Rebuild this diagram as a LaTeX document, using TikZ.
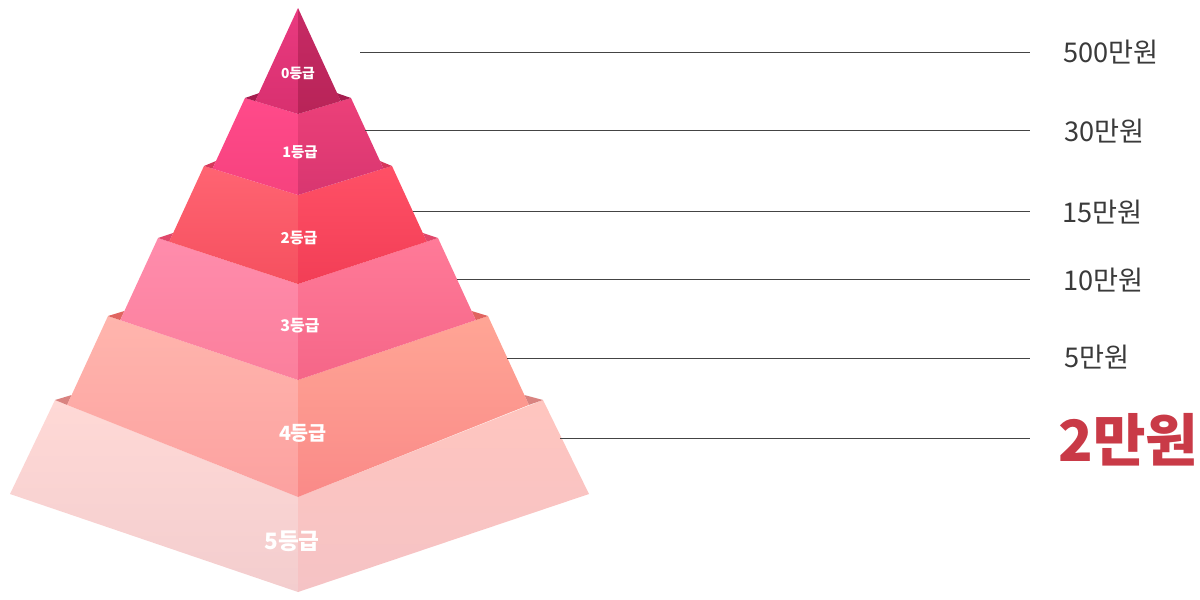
\documentclass[tikz,border=0pt]{standalone}
\usepackage{fontspec}
\newfontfamily\kr{Noto Sans CJK KR}
\definecolor{txt}{HTML}{3A3A3A}
\definecolor{hi}{HTML}{C93A47}
\definecolor{lin}{HTML}{444444}
\definecolor{l0a}{HTML}{EA3A80}\definecolor{l0b}{HTML}{D8306F}
\definecolor{r0a}{HTML}{C72A65}\definecolor{r0b}{HTML}{B82458}
\definecolor{l1a}{HTML}{FF4A8A}\definecolor{l1b}{HTML}{F6427E}
\definecolor{r1a}{HTML}{EC4079}\definecolor{r1b}{HTML}{D83670}
\definecolor{l2a}{HTML}{FF6472}\definecolor{l2b}{HTML}{F5505F}
\definecolor{r2a}{HTML}{FF5066}\definecolor{r2b}{HTML}{F23E56}
\definecolor{l3a}{HTML}{FF8CAC}\definecolor{l3b}{HTML}{FB7F9C}
\definecolor{r3a}{HTML}{FF7A98}\definecolor{r3b}{HTML}{F56688}
\definecolor{l4a}{HTML}{FFB5AD}\definecolor{l4b}{HTML}{FCA1A0}
\definecolor{r4a}{HTML}{FFA595}\definecolor{r4b}{HTML}{FA8A88}
\definecolor{l5a}{HTML}{FFD9D6}\definecolor{l5b}{HTML}{F3CDCE}
\definecolor{r5a}{HTML}{FFC5BF}\definecolor{r5b}{HTML}{F5C3C5}
\definecolor{g1}{HTML}{A61D4F}
\definecolor{g2}{HTML}{D6385C}
\definecolor{g3}{HTML}{E0476A}
\definecolor{g4}{HTML}{E06460}
\definecolor{g5}{HTML}{D98380}
\tikzset{
  tierlabel/.style={text=white,font=\kr\bfseries,inner sep=0pt},
  amount/.style={text=txt,font=\kr\fontsize{13.6}{16}\selectfont,anchor=west,inner sep=0pt},
  leader/.style={draw=lin,line width=0.5pt}
}
\begin{document}
\begin{tikzpicture}[x=0.5pt,y=-0.5pt]
\useasboundingbox (0,0) rectangle (1200,600);
% key points
\coordinate (A) at (298,8);
\coordinate (C0) at (298,114);
\coordinate (C1) at (298,195);
\coordinate (C2) at (298,284);
\coordinate (C3) at (298,380);
\coordinate (C4) at (298,497);
\coordinate (C5) at (298,592);
\coordinate (TL1) at (245,98);  \coordinate (TR1) at (351,98);
\coordinate (TL2) at (204,166); \coordinate (TR2) at (392,166);
\coordinate (TL3) at (158,238); \coordinate (TR3) at (438,238);
\coordinate (TL4) at (108,316); \coordinate (TR4) at (488,316);
\coordinate (TL5) at (55,400);  \coordinate (TR5) at (543,400);
\coordinate (BL0) at (255.2,101.1); \coordinate (BR0) at (340.8,101.1);
\coordinate (BL1) at (212.5,168.6); \coordinate (BR1) at (383.5,168.6);
\coordinate (BL2) at (169.2,241.7); \coordinate (BR2) at (426.8,241.7);
\coordinate (BL3) at (120.2,320.1); \coordinate (BR3) at (475.8,320.1);
\coordinate (BL4) at (67.1,404.9);  \coordinate (BR4) at (528.9,404.9);
\coordinate (BL5) at (10,494);      \coordinate (BR5) at (589,494);
\coordinate (P1) at (259.4,93);  \coordinate (Q1) at (336.6,93);
\coordinate (P2) at (216.0,161); \coordinate (Q2) at (380.0,161);
\coordinate (P3) at (173.2,233); \coordinate (Q3) at (422.8,233);
\coordinate (P4) at (124.4,311); \coordinate (Q4) at (471.6,311);
\coordinate (P5) at (71.7,395);  \coordinate (Q5) at (524.3,395);
% tier 5
\shade[top color=l5a,bottom color=l5b] (TL5) -- (BL5) -- (C5) -- (C4) -- cycle;
\shade[top color=r5a,bottom color=r5b] (C4) -- (C5) -- (BR5) -- (TR5) -- cycle;
\fill[g5] (TL5) -- (P5) -- (BL4) -- cycle;
\fill[g5] (TR5) -- (Q5) -- (BR4) -- cycle;
% tier 4
\shade[top color=l4a,bottom color=l4b] (TL4) -- (BL4) -- (C4) -- (C3) -- cycle;
\shade[top color=r4a,bottom color=r4b] (C3) -- (C4) -- (BR4) -- (TR4) -- cycle;
\fill[g4] (TL4) -- (P4) -- (BL3) -- cycle;
\fill[g4] (TR4) -- (Q4) -- (BR3) -- cycle;
% tier 3
\shade[top color=l3a,bottom color=l3b] (TL3) -- (BL3) -- (C3) -- (C2) -- cycle;
\shade[top color=r3a,bottom color=r3b] (C2) -- (C3) -- (BR3) -- (TR3) -- cycle;
\fill[g3] (TL3) -- (P3) -- (BL2) -- cycle;
\fill[g3] (TR3) -- (Q3) -- (BR2) -- cycle;
% tier 2
\shade[top color=l2a,bottom color=l2b] (TL2) -- (BL2) -- (C2) -- (C1) -- cycle;
\shade[top color=r2a,bottom color=r2b] (C1) -- (C2) -- (BR2) -- (TR2) -- cycle;
\fill[g2] (TL2) -- (P2) -- (BL1) -- cycle;
\fill[g2] (TR2) -- (Q2) -- (BR1) -- cycle;
% tier 1
\shade[top color=l1a,bottom color=l1b] (TL1) -- (BL1) -- (C1) -- (C0) -- cycle;
\shade[top color=r1a,bottom color=r1b] (C0) -- (C1) -- (BR1) -- (TR1) -- cycle;
\fill[g1] (TL1) -- (P1) -- (BL0) -- cycle;
\fill[g1] (TR1) -- (Q1) -- (BR0) -- cycle;
% tier 0
\shade[top color=l0a,bottom color=l0b] (A) -- (BL0) -- (C0) -- cycle;
\shade[top color=r0a,bottom color=r0b] (A) -- (C0) -- (BR0) -- cycle;
% tier labels
\node[tierlabel,font=\kr\bfseries\fontsize{6.9}{8}\selectfont] (t0) at (298,73) {0등급};
\node[tierlabel,font=\kr\bfseries\fontsize{7.2}{8}\selectfont] (t1) at (300,152) {1등급};
\node[tierlabel,font=\kr\bfseries\fontsize{7.5}{8}\selectfont] (t2) at (299,238) {2등급};
\node[tierlabel,font=\kr\bfseries\fontsize{8}{9}\selectfont] (t3) at (300,326) {3등급};
\node[tierlabel,font=\kr\bfseries\fontsize{9.8}{11}\selectfont] (t4) at (303,433) {4등급};
\node[tierlabel,font=\kr\bfseries\fontsize{11.3}{13}\selectfont] (t5) at (292,541) {5등급};
% amounts
\node[amount] (a0) at (1063,52) {500만원};
\node[amount] (a1) at (1064,131) {30만원};
\node[amount] (a2) at (1062,212) {15만원};
\node[amount] (a3) at (1063,280) {10만원};
\node[amount] (a4) at (1064,357) {5만원};
\node[amount,text=hi,font=\kr\bfseries\fontsize{28.5}{32}\selectfont] (a5) at (1058,440) {2만원};
% leader lines
\coordinate (s0) at (360,52);  \coordinate (e0) at (1030,52);
\coordinate (s1) at (365,130); \coordinate (e1) at (1030,130);
\coordinate (s2) at (413,211); \coordinate (e2) at (1030,211);
\coordinate (s3) at (457,279); \coordinate (e3) at (1030,279);
\coordinate (s4) at (507,358); \coordinate (e4) at (1030,358);
\coordinate (s5) at (560,438); \coordinate (e5) at (1030,438);
\draw[leader] (s0) -- (e0);
\draw[leader] (s1) -- (e1);
\draw[leader] (s2) -- (e2);
\draw[leader] (s3) -- (e3);
\draw[leader] (s4) -- (e4);
\draw[leader] (s5) -- (e5);
\end{tikzpicture}
\end{document}
